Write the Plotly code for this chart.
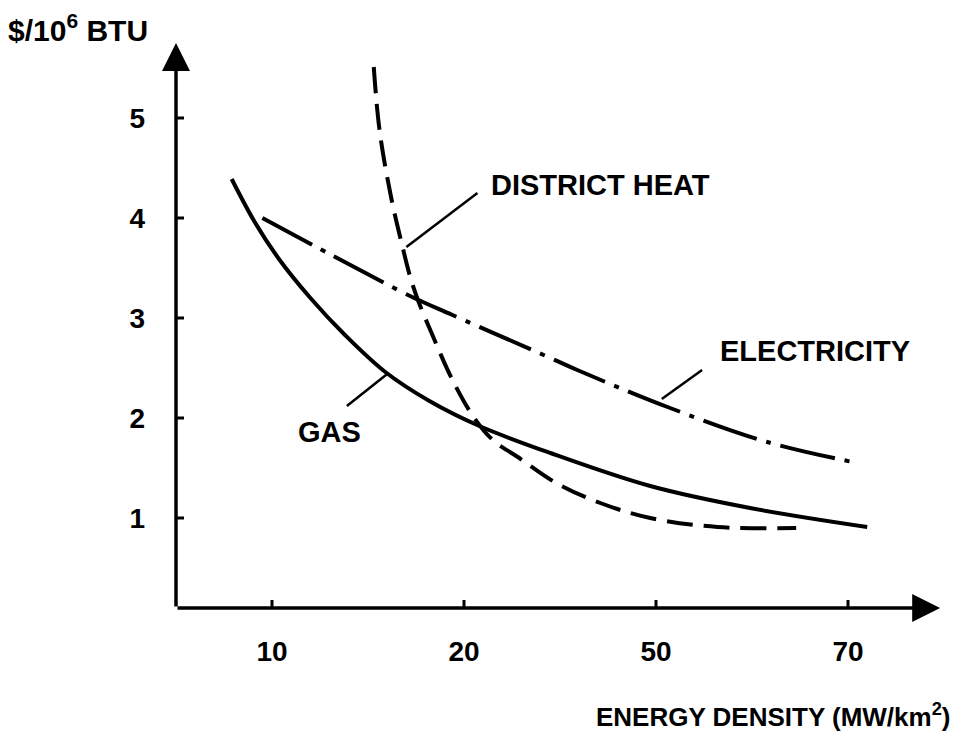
import plotly.graph_objects as go

# Tick positions (evenly spaced on the drawing) and their labels
x_tick_pos = [1, 2, 3, 4]
x_tick_text = ["10", "20", "50", "70"]
y_tick_vals = [1, 2, 3, 4, 5]

# Curves, x expressed in tick-position units (10 -> 1, 20 -> 2, 50 -> 3, 70 -> 4)
gas_x = [0.79, 0.91, 1.04, 1.20, 1.38, 1.59, 1.82, 2.08, 2.45, 2.97, 3.49, 4.10]
gas_y = [4.39, 3.96, 3.58, 3.20, 2.83, 2.46, 2.17, 1.92, 1.65, 1.32, 1.10, 0.91]

elec_x = [0.95, 1.32, 1.73, 1.94, 2.45, 2.59, 3.06, 3.58, 4.05]
elec_y = [4.00, 3.62, 3.21, 3.03, 2.60, 2.48, 2.11, 1.76, 1.55]

dh_x = [1.53, 1.56, 1.62, 1.68, 1.72, 1.76, 1.84, 1.94, 2.05, 2.15, 2.28, 2.48, 2.71, 2.97, 3.32, 3.73]
dh_y = [5.51, 4.88, 4.21, 3.71, 3.41, 3.18, 2.81, 2.38, 2.01, 1.78, 1.61, 1.35, 1.15, 1.00, 0.91, 0.90]

# Curve labels: text, label centre, leader line (start on curve -> end near text)
labels = ["DISTRICT HEAT", "GAS", "ELECTRICITY"]
label_x = [2.71, 1.30, 3.83]
label_y = [4.33, 1.86, 2.67]
leader_x0 = [1.70, 1.60, 3.03]
leader_y0 = [3.71, 2.44, 2.19]
leader_x1 = [2.07, 1.39, 3.24]
leader_y1 = [4.25, 2.12, 2.48]

X_MIN, X_MAX = 0.5, 4.5
Y_MIN, Y_MAX = 0.10, 5.75
AX_X = 0.50          # where the vertical axis stands
AX_TIP_X = 4.48      # tip of the horizontal arrow

FONT = "Liberation Sans, Arial, sans-serif"

fig = go.Figure()

fig.add_trace(go.Scatter(x=gas_x, y=gas_y, mode="lines",
                         line=dict(color="black", width=4, shape="spline", smoothing=1.0),
                         showlegend=False, hoverinfo="skip"))
fig.add_trace(go.Scatter(x=elec_x, y=elec_y, mode="lines",
                         line=dict(color="black", width=4, shape="spline", smoothing=1.0,
                                   dash="56px,10px,5px,10px"),
                         showlegend=False, hoverinfo="skip"))
fig.add_trace(go.Scatter(x=dh_x, y=dh_y, mode="lines",
                         line=dict(color="black", width=4, shape="spline", smoothing=1.0,
                                   dash="26px,11px"),
                         showlegend=False, hoverinfo="skip"))

shapes = []
# tick marks crossing the axes
for xv in x_tick_pos:
    shapes.append(dict(type="line", xref="x", yref="y", ysizemode="pixel", yanchor=Y_MIN,
                       x0=xv, x1=xv, y0=-12, y1=8, line=dict(color="black", width=3)))
for yv in y_tick_vals:
    shapes.append(dict(type="line", xref="x", yref="y", xsizemode="pixel", xanchor=AX_X,
                       x0=-11, x1=8, y0=yv, y1=yv, line=dict(color="black", width=3)))
# leader lines
for i in range(len(labels)):
    shapes.append(dict(type="line", xref="x", yref="y",
                       x0=leader_x0[i], y0=leader_y0[i], x1=leader_x1[i], y1=leader_y1[i],
                       line=dict(color="black", width=2.5)))

annotations = []
# axis arrows
annotations.append(dict(x=AX_TIP_X, y=Y_MIN, ax=AX_X, ay=Y_MIN, xref="x", yref="y",
                        axref="x", ayref="y", text="", showarrow=True, arrowhead=2,
                        arrowsize=1.6, arrowwidth=3.5, arrowcolor="black", standoff=0))
annotations.append(dict(x=AX_X, y=Y_MAX, ax=AX_X, ay=Y_MIN, xref="x", yref="y",
                        axref="x", ayref="y", text="", showarrow=True, arrowhead=2,
                        arrowsize=1.6, arrowwidth=3.5, arrowcolor="black", standoff=0))
for i in range(len(labels)):
    annotations.append(dict(x=label_x[i], y=label_y[i], xref="x", yref="y", text=labels[i],
                            showarrow=False, font=dict(family=FONT, size=29, color="black",
                                                       weight="bold")))
# axis titles
annotations.append(dict(xref="paper", yref="paper", x=-0.222, y=1.027, xanchor="left",
                        yanchor="middle", text="$/10<sup>6</sup> BTU", showarrow=False,
                        font=dict(family=FONT, size=30, color="black", weight="bold")))
annotations.append(dict(xref="paper", yref="paper", x=1.0104, y=-0.19, xanchor="right",
                        yanchor="middle", text="ENERGY DENSITY (MW/km<sup>2</sup>)",
                        showarrow=False,
                        font=dict(family=FONT, size=26, color="black", weight="bold")))

fig.update_layout(
    width=959, height=739,
    margin=dict(l=168, r=23, t=35, b=139),
    paper_bgcolor="white", plot_bgcolor="white",
    xaxis=dict(range=[X_MIN, X_MAX], tickvals=x_tick_pos, ticktext=x_tick_text,
               showgrid=False, zeroline=False, showline=False, ticks="",
               ticklabelstandoff=24,
               tickfont=dict(family=FONT, size=28, color="black", weight="bold")),
    yaxis=dict(range=[Y_MIN, Y_MAX], tickvals=y_tick_vals,
               showgrid=False, zeroline=False, showline=False, ticks="",
               ticklabelstandoff=30,
               tickfont=dict(family=FONT, size=28, color="black", weight="bold")),
    shapes=shapes, annotations=annotations, showlegend=False,
)

fig.write_html("out.html")
